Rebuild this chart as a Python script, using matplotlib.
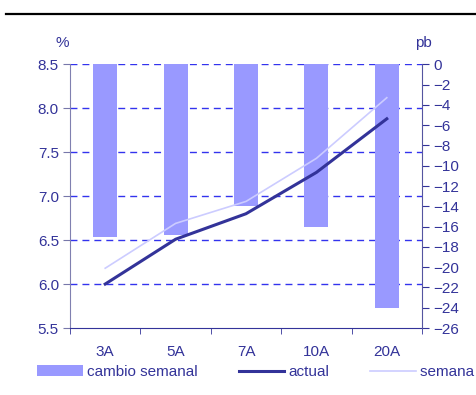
import matplotlib
matplotlib.use("Agg")
import matplotlib.pyplot as plt
import numpy as np
from matplotlib.lines import Line2D
from matplotlib.patches import Patch

plt.rcParams['font.family'] = ['Liberation Sans', 'DejaVu Sans']
plt.rcParams['font.size'] = 11

# Curva de rendimientos por plazo
plazos = ['3A', '5A', '7A', '10A', '20A']
cambio_semanal = [-17, -16.8, -14, -16, -24]        # pb, eje derecho
actual = [6.00, 6.51, 6.80, 7.27, 7.88]             # %, eje izquierdo
semana_anterior = [6.18, 6.69, 6.94, 7.43, 8.12]    # %, eje izquierdo

TXT = '#333399'
BAR = '#9999ff'
NAVY = '#333399'
LIGHT = '#ccccff'
GRID = '#3333ee'

fig = plt.figure(figsize=(4.76, 3.95), dpi=100)
ax = fig.add_axes([70 / 476, 67 / 395, 352 / 476, 263.7 / 395])
x = np.arange(len(plazos))

# eje izquierdo: rejilla y escalas
ax.set_xlim(-0.5, len(plazos) - 0.5)
ax.set_ylim(5.5, 8.5)
ax.set_yticks(np.arange(5.5, 8.51, 0.5))
ax.set_yticklabels([f"{v:.1f}" for v in np.arange(5.5, 8.51, 0.5)])
for v in np.arange(6.0, 8.51, 0.5):
    ax.axhline(v, color=GRID, lw=1, linestyle=(0, (5, 3.6)), zorder=0)
ax.set_xticks(x)
ax.set_xticklabels(plazos)
ax.set_xticks(np.arange(-0.5, len(plazos), 1.0), minor=True)
ax.tick_params(axis='x', which='major', length=0, pad=12, colors=TXT)
ax.tick_params(axis='x', which='minor', length=4, color=NAVY)
ax.tick_params(axis='y', length=5, color='#7777aa', labelcolor=TXT, pad=3)
ax.spines['top'].set_visible(False)
ax.spines['right'].set_visible(False)
ax.spines['left'].set_color('#8080b0')
ax.spines['bottom'].set_color(NAVY)

# eje derecho: cambio semanal en pb
ax2 = ax.twinx()
ax2.bar(x, cambio_semanal, width=0.34, color=BAR, zorder=2)
ax2.set_ylim(-26, 0)
ax2.set_yticks(np.arange(-26, 1, 2))
ax2.tick_params(axis='y', length=5, color=NAVY, labelcolor=TXT, pad=3)
for s in ['top', 'left', 'bottom']:
    ax2.spines[s].set_visible(False)
ax2.spines['right'].set_color('#5555a0')

# lineas por encima de las barras
ax3 = ax.twinx()
ax3.set_ylim(5.5, 8.5)
ax3.plot(x, semana_anterior, color=LIGHT, lw=1.2)
ax3.plot(x, actual, color=NAVY, lw=2.2)
ax3.axis('off')

fig.text(62 / 476, 1 - 43 / 395, '%', color=TXT, ha='center', va='center')
fig.text(423 / 476, 1 - 43 / 395, 'pb', color=TXT, ha='center', va='center')

# filete superior
fig.add_artist(Line2D([6 / 476, 1], [1 - 13.5 / 395] * 2, color='black', lw=1.6))

handles = [Patch(facecolor=BAR, edgecolor='none'),
           Line2D([], [], color=NAVY, lw=2.2),
           Line2D([], [], color=LIGHT, lw=1.2)]
labels = ['cambio semanal', 'actual', 'semana anterior']
fig.legend(handles, labels, loc='center left', bbox_to_anchor=(37 / 476, 1 - 372 / 395),
           ncol=3, frameon=False, borderpad=0, borderaxespad=0, handlelength=3.0,
           handleheight=0.7, handletextpad=0.25, columnspacing=2.7, labelcolor=TXT)

fig.savefig('out.png', dpi=100)
